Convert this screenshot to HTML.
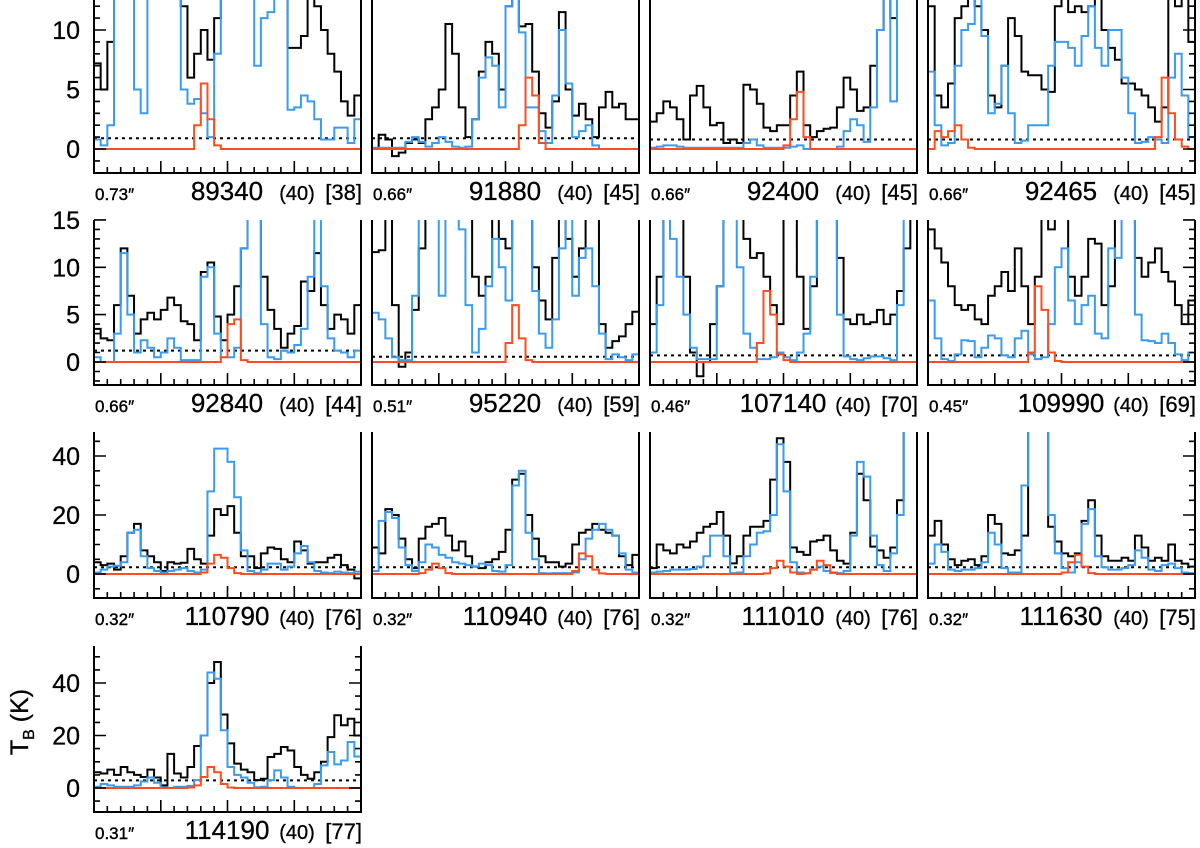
<!DOCTYPE html>
<html><head><meta charset="utf-8"><style>
html,body{margin:0;padding:0;background:#fff;}
svg{display:block;font-family:"Liberation Sans",sans-serif;}
</style></head><body>
<svg id="chart" width="1200" height="848" viewBox="0 0 1200 848" xmlns="http://www.w3.org/2000/svg">
<text transform="translate(28,722) rotate(-90)" text-anchor="middle" font-size="25" stroke="#000" stroke-width="0.3">T<tspan font-size="16" dy="6">B</tspan><tspan dy="-6"> (K)</tspan></text>
</svg>
<script>
const freqs = [89340,91880,92400,92465,92840,95220,107140,109990,110790,110940,111010,111630,114190];
const resLabels = ["0.73″","0.66″","0.66″","0.66″","0.66″","0.51″","0.46″","0.45″","0.32″","0.32″","0.32″","0.32″","0.31″"];
const brackets = ["[38]","[45]","[45]","[45]","[44]","[59]","[70]","[69]","[76]","[76]","[76]","[75]","[77]"];
const rmsLevels = [0.9,0.9,0.8,0.8,1.2,0.55,0.7,0.7,2.3,2.3,2.3,2.3,2.9];
const rowTicks = [[-1,12,1,5],[-2,15,1,5],[-5,45,5,20],[-5,50,5,20]];
const rowTickLabels = [[0,5,10],[0,5,10,15],[0,20,40],[0,20,40]];

const black_89340 = [7.2,5,9,15,15,15,15,15,15,15,15,15,15,12,6,8,10,7.5,11,15,15,15,15,15,15,15,15,15,15,8.5,8.5,9.5,13,12,10,8,6.5,4,2.8,4.5];
const blue_89340 = [0.8,0.3,2,15,15,15,5,3,15,15,15,15,15,5,3.8,4.2,3,1,8,15,15,15,15,15,7,11,11.5,15,15,3.3,3.5,4.5,4,2.5,0.8,0.8,1.8,1.8,0.5,2.5];
const red_89340 = [0,0,0,0,0,0,0,0,0,0,0,0,0,0,0,2,5.5,2.5,0.3,0,0,0,0,0,0,0,0,0,0,0,0,0,0,0,0,0,0,0,0,0];

const black_91880 = [0,1.2,0.8,-0.6,-0.3,0.5,0.8,0.5,2.5,3.5,5,10.5,8,3.5,1,2.5,6.5,9,8,5,12,15,10.3,10.5,6.5,3,1.8,4,11.5,5,2.8,3.8,2.5,1,3.5,4.8,3.5,3.8,2.5,2.5];
const blue_91880 = [0.1,0.1,0.1,0.1,0.1,0.6,1,0.6,0.2,0.5,1,0.6,0.2,0.1,0.2,2.5,6,7.7,7,3.5,12,15,9.8,3.5,3.5,1.5,0.5,4.5,10,5.5,1,1.5,2,0.3,0,0,0,0,0,0];
const red_91880 = [0,0,0,0,0,0,0,0,0,0,0,0,0,0,0,0,0,0,0,0,0,0,2,6,4.5,0.5,0,0,0,0,0,0,0,0,0,0,0,0,0,0];

const black_92400 = [2.3,3,4,3.5,2.5,0.8,4.5,5.3,3.5,2,2.2,0.5,0.8,0.5,5.4,5,3.8,1.8,1.5,2,2,4.5,6.5,2,1,1.5,1.7,1.8,3.5,6,5,3.2,3.5,7,10,15,11,15,15,15];
const blue_92400 = [0.1,0.2,0.3,0.3,0.2,0.1,0.1,0.1,0.1,0.1,0.1,0.1,0.1,0.1,0.5,0.8,0.3,0.1,0.1,0.1,0.1,0.2,0.3,0,0,0,0,0,0.2,1.5,2.5,2,0.6,3.5,10,15,4,15,15,15];
const red_92400 = [0,0,0,0,0,0,0,0,0,0,0,0,0,0,0,0,0,0,0,0,0.3,2.5,4.8,1,0,0,0,0,0,0,0,0,0,0,0,0,0,0,0,0];

const black_92465 = [12,4.5,3.5,5.5,11,12,13,12,10,4.5,3.5,7,11,9.5,6.5,6.2,6.2,5,4.8,12,13,11.5,12,11.5,12,15,10,8.5,7.5,5.5,5.5,5,4.5,3.5,2.3,3.5,15,12,15,9];
const blue_92465 = [6.5,2,0.3,0.5,7,10,10.5,13,9.5,3,3.8,7,3,0.5,0.7,2,2,2,7,9,9,8.5,7,9.5,12,8.5,7,10,10,6,3,0.5,0.6,1,0.8,0.5,6,8,4.5,1];
const red_92465 = [0,1.5,1,1.5,2,0.8,0.1,0,0,0,0,0,0,0,0,0,0,0,0,0,0,0,0,0,0,0,0,0,0,0,0,0,0,0,1,6,3,0.8,0.2,0];

const black_92840 = [3.5,2.5,2.3,6,12,7,3,4.5,5.2,4.5,5.5,6.8,6,4.3,4,2.3,9.5,10.5,4.8,2.3,5,8,12,16,16,9,5.5,3.5,1.5,3,3.8,8.5,7.5,11.5,6,3.5,5,4.5,3,6];
const blue_92840 = [0.5,0,0,3,11.5,5,1,2.3,1.5,0.5,1,2.5,1.5,0.2,0.2,0.2,9,10,3,0.5,0.5,1.5,12,16,16,4,0.5,0.3,1.2,1,1.8,3.5,9,16,8,2.5,1.2,1,0.5,1.2];
const red_92840 = [0,0,0,0,0,0,0,0,0,0,0,0,0,0,0,0,0,0,0,0.5,4,4.5,0.2,0,0,0,0,0,0,0,0,0,0,0,0,0,0,0,0,0];

const black_95220 = [11.6,11.8,16,6,-0.5,1,5.5,12,16,16,16,16,16,16,16,9,7,9,16,13,12,16,16,16,10,6.5,4.5,11,16,13,9,12,16,16,4,1.5,2.2,2.7,4,5.3];
const blue_95220 = [5.2,4.5,2.5,0.5,0.2,0.2,7,16,16,16,7,16,16,14,6,1,3.5,8,13,10,6.5,16,16,16,7.5,3,1.5,4.5,12,16,7,11,12,8,3,0.3,0.8,0.5,0.2,0.8];
const red_95220 = [0,0,0,0,0,0,0,0,0,0,0,0,0,0,0,0,0,0,0,0,2,6,2.5,0.2,0,0,0,0,0,0,0,0,0,0,0,0,0,0,0,0];

const black_107140 = [4,9,16,16,16,9,1,-1.5,0,4,8,16,16,16,13,11,11.5,9,6,4,16,16,9,3.5,8,16,16,16,11,4.5,4,5,4,4.2,5.5,4,5,7.5,12,16];
const blue_107140 = [1,6,16,13,9,5,1.5,0.3,0.3,0.3,8,16,16,10,3,1.5,0.3,0.3,0.5,1,0.5,0.2,1,3,9,16,16,16,5,0.6,0.3,0.2,0.4,0.6,0.6,0.4,0.2,6,16,16];
const red_107140 = [0,0,0,0,0,0,0,0,0,0,0,0,0,0,0,0,2,7.5,5,0.8,0.2,0,0,0,0,0,0,0,0,0,0,0,0,0,0,0,0,0,0,0];

const black_109990 = [14,12,10.5,8,6,5.5,6,4.5,4,7,8,9.5,7.5,12,8,4,9,16,14,16,16,9,7,9,13,12.5,6,8,16,16,16,11,9,10.5,12,9.5,8.5,6,4,6.5];
const blue_109990 = [6.5,2.5,0.3,0.1,0.8,2.3,2.2,0.5,1.5,2.8,2.5,0.7,0.5,2.5,3.3,0.8,0.3,0.5,4,10,12,6.5,4,6,7,3,2.5,12,11,16,16,5,2.3,2.2,2,3,2,0.8,0.2,1];
const red_109990 = [0,0,0,0,0,0,0,0,0,0,0,0,0,0,0,1,8,5.5,1,0.1,0,0,0,0,0,0,0,0,0,0,0,0,0,0,0,0,0,0,0,0];

const black_110790 = [4,3,3.5,1.5,6,14,17,8,6,4,1,4,3.5,3.8,8.5,5,3.5,13,22,20,23,14,6,6,2,7,9,8.5,5,4,11,8,3.5,4,4,5.5,6.5,3,1.5,-1.5];
const blue_110790 = [0.5,1.5,2.5,2.8,4,14,15,6,2,1,0.5,1,1.5,2,1,0.5,1.5,28,42.5,42.5,38,26,8,1,0.3,1.5,3.5,3.5,1.5,2.5,7,9.5,4,1,0.5,0.3,0.8,0.5,0.3,0.8];
const red_110790 = [0,0,0,0,0,0,0,0,0,0,0,0,0,0,0,0,0.5,3.5,6.5,5.5,2,0.3,0,0,0,0,0,0,0,0,0,0,0,0,0,0,0,0,0,0];

const black_110940 = [9,7,22,20,12,5,2,12,16,17,19,13,8,11,6,2.5,2,4,5,7.5,15,32,34,20,12,6,4,4,2.5,3.5,10,14,15,17,15,14,13,6,3,6.5];
const blue_110940 = [1,18,21,19,9,3,1,4,10,9,6.5,5.5,4,3.5,3,2.5,3.5,3,1,0.8,3,30,35,14,5,0.3,0.2,0.3,0.3,0.3,0.5,5,12,15,17,15,13,7,1.5,0.5];
const red_110940 = [0,0,0,0,0,0,0,0.3,1.5,3.5,2,0.3,0,0,0,0,0,0,0,0,0,0,0,0,0,0,0,0,0,0,1,7,6,1.5,0.2,0,0,0,0,0];

const black_111010 = [2,10,8,7,10,9,11,14,16,17,21,13,3.6,6,13,16,16,18,32,46,38,9,7.5,6.5,11,11.5,13,8,4.5,3.5,14,34,25,9.3,8,5.5,9,25,55,55];
const blue_111010 = [0.5,0.8,1,1.5,1.5,1.5,1.7,2.5,6,13,13,6,0.3,0.5,6,10,14,14.5,20,44,28,4,0.5,0.3,1.5,2.5,1,0.3,0.3,1,13,38,33,13,3,1,7,20,55,55];
const red_111010 = [0,0,0,0,0,0,0,0,0,0,0,0,0,0,0,0,0,0.2,2,4.5,2.5,0.5,0,0.2,1.5,4.5,3,0.5,0,0,0,0,0,0,0,0,0,0,0,0];

const black_111630 = [13,18,10,5,3,4.5,5,3,6,20,17,7,6.5,8,13,55,55,55,16,11,7,6,7,18,25,13,6,4.5,4.5,5.5,4.5,13,9,4.5,5.5,4.5,10,4.5,3.5,2.5];
const blue_111630 = [3.5,10,7.5,1.5,1,1.5,1.5,2,4,14,10,2,0.5,0.5,30,55,55,55,20,7,2,0.5,4,17,22,6,2.3,1.5,1.5,2,3,8,5.5,1.5,1,3,3.5,2,0.5,0.3];
const red_111630 = [0,0,0,0,0,0,0,0,0,0,0,0,0,0,0,0,0,0,0,0,0.5,4,6.5,2.5,0.3,0,0,0,0,0,0,0,0,0,0,0,0,0,0,0];

const black_114190 = [6,5.5,7,5,8,6,5,4.2,7,4,1,13,5.5,4,8,16,20,40,48,28,17,9.3,7,6,3,3.5,11.8,13,15.6,14.3,8,5,3.5,6,10,19.4,27.7,23.9,26.4,20];
const blue_114190 = [0.5,1.5,1,0.5,0.5,0.5,1,2.5,4,2,0.2,0,0.5,0.5,0.8,3,20,44,41.6,22,8,5,4,2,0.3,0.5,3,6.7,4,0.5,0,0,0,1.5,8.6,13.7,9,10.5,17.5,12];
const red_114190 = [0,0,0,0,0,0,0,0,0,0,0,0,0,0,0.2,1,4.2,8,6,1.5,0.2,0,0,0,0,0,0,0,0,0,0,0,0,0,0,0,0,0,0,0];

const blacks = [black_89340,black_91880,black_92400,black_92465,black_92840,black_95220,black_107140,black_109990,black_110790,black_110940,black_111010,black_111630,black_114190];
const blues = [blue_89340,blue_91880,blue_92400,blue_92465,blue_92840,blue_95220,blue_107140,blue_109990,blue_110790,blue_110940,blue_111010,blue_111630,blue_114190];
const reds = [red_89340,red_91880,red_92400,red_92465,red_92840,red_95220,red_107140,red_109990,red_110790,red_110940,red_111010,red_111630,red_114190];

const NS = "http://www.w3.org/2000/svg";
const svg = document.getElementById('chart');
const colX = [94,372,650,928];
const W = 267;
const rows = [{y0:149,k:11.9,top:0,bot:173},{y0:362,k:9.47,top:220,bot:385},{y0:574,k:2.95,top:432,bot:598},{y0:788,k:2.625,top:646,bot:812}];
function mk(tag, attrs){const e=document.createElementNS(NS,tag);for(const a in attrs)e.setAttribute(a,attrs[a]);return e;}
const defs = mk('defs',{}); svg.appendChild(defs);

freqs.forEach((f,p)=>{
  const r = Math.floor(p/4), c = p%4;
  const R = rows[r], x0 = colX[c], x1 = x0+W;
  const yS = v => R.y0 - v*R.k;
  const xS = ch => x0 + ch*W/40;
  const g = mk('g',{});
  
  
  svg.appendChild(g);
  const cp = mk('clipPath',{id:'cp'+p});
  cp.appendChild(mk('rect',{x:x0,y:R.top,width:W,height:R.bot-R.top}));
  defs.appendChild(cp);
  const plot = mk('g',{'clip-path':'url(#cp'+p+')'});
  g.appendChild(plot);
  const dot = mk('line',{x1:x0,x2:x1,y1:yS(rmsLevels[p]),y2:yS(rmsLevels[p]),stroke:'#000','stroke-width':2,'stroke-dasharray':'3 4'});
  
  
  plot.appendChild(dot);
  [[blacks[p],'#000','black-spectrum'],[blues[p],'#3a9bf2','blue-model-spectrum'],[reds[p],'#ff4d1f','red-model-spectrum']].forEach(([arr,col,nm])=>{
    let d = 'M'+xS(0)+','+yS(arr[0]);
    for(let i=0;i<arr.length;i++){
      d += ' H'+xS(i+1).toFixed(2);
      if(i+1<arr.length) d += ' V'+yS(arr[i+1]).toFixed(2);
    }
    const path = mk('path',{d:d,fill:'none',stroke:col,'stroke-width':2,'stroke-linejoin':'miter'});
    
    
    plot.appendChild(path);
  });
  const fr = mk('path',{d:`M${x0},${R.top} V${R.bot} H${x1} V${R.top}`,fill:'none',stroke:'#000','stroke-width':2});
  
  
  g.appendChild(fr);
  let td='';
  for(let i=0;i<=20;i++){const x=x0+i*W/20;const L=(i%5===0)?12:6;td+=`M${x.toFixed(1)},${R.bot} v${-L} `;}
  const [tmin,tmax,tstep,tmaj] = rowTicks[r];
  const leftTicks = (c===0), rightTicks = (c===3 || p===12);
  for(let v=tmin; v<=tmax; v+=tstep){
    const y=yS(v); if(y<R.top-0.5||y>R.bot) continue;
    const L=(v%tmaj===0)?12:6;
    if(leftTicks) td+=`M${x0},${y.toFixed(1)} h${L} `;
    if(rightTicks) td+=`M${x1},${y.toFixed(1)} h${-L} `;
  }
  const tk = mk('path',{d:td,stroke:'#000','stroke-width':1.6,fill:'none'});
  
  
  g.appendChild(tk);
  if(c===0){
    rowTickLabels[r].forEach(v=>{
      const t = mk('text',{x:80,y:(yS(v)+9).toFixed(1),'text-anchor':'end','font-size':25,stroke:'#000','stroke-width':0.3});
      t.textContent = v;
      
      
      g.appendChild(t);
    });
  }
  const by = R.bot+27;
  const t1 = mk('text',{x:x0+1,y:by,'font-size':17,stroke:'#000','stroke-width':0.4}); t1.textContent=resLabels[p];
  
  
  const t2 = mk('text',{x:x0+133,y:by,'text-anchor':'middle','font-size':26,stroke:'#000','stroke-width':0.3}); t2.textContent=f;
  
  
  const t3 = mk('text',{x:x0+203,y:by,'text-anchor':'middle','font-size':20,stroke:'#000','stroke-width':0.3}); t3.textContent='(40)';
  
  
  const t4 = mk('text',{x:x1+1,y:by,'text-anchor':'end','font-size':22,stroke:'#000','stroke-width':0.3}); t4.textContent=brackets[p];
  
  
  g.appendChild(t1); g.appendChild(t2); g.appendChild(t3); g.appendChild(t4);
});
</script>
</body></html>
